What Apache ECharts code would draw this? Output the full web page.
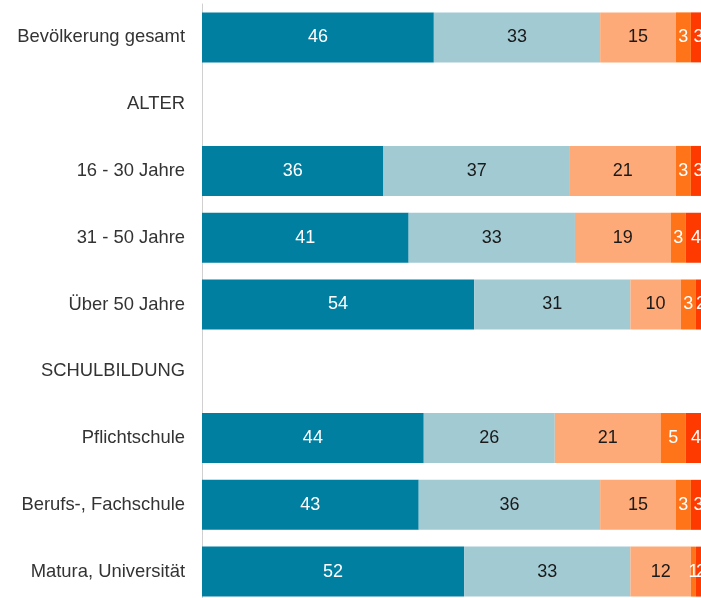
<!DOCTYPE html>
<html>
<head>
<meta charset="utf-8">
<script src="https://cdn.jsdelivr.net/npm/echarts@6/dist/echarts.min.js"></script>
<style>
html,body{margin:0;padding:0;background:#fff;}
#chart{width:701px;height:598px;}
</style>
</head>
<body>
<div id="chart"></div>
<script>
var categories = ["Bevölkerung gesamt", "ALTER", "16 - 30 Jahre", "31 - 50 Jahre", "Über 50 Jahre", "SCHULBILDUNG", "Pflichtschule", "Berufs-, Fachschule", "Matura, Universität"];
var s1 = [46, null, 36, 41, 54, null, 44, 43, 52];
var s2 = [33, null, 37, 33, 31, null, 26, 36, 33];
var s3 = [15, null, 21, 19, 10, null, 21, 15, 12];
var s4 = [3, null, 3, 3, 3, null, 5, 3, 1];
var s5 = [3, null, 3, 4, 2, null, 4, 3, 2];

var colors = ["#007FA1", "#A2CAD3", "#FDAA78", "#FF7419", "#FF3A00"];
var labelColors = ["#ffffff", "#1a1a1a", "#1a1a1a", "#ffffff", "#ffffff"];
var seriesData = [s1, s2, s3, s4, s5];

var chart = echarts.init(document.getElementById('chart'), null, {renderer: 'canvas'});
var series = seriesData.map(function (d, i) {
  return {
    type: 'bar',
    stack: 'total',
    data: d,
    barWidth: 50,
    itemStyle: {color: colors[i]},
    label: {
      show: true,
      position: 'inside',
      color: labelColors[i],
      fontSize: 18,
      fontFamily: 'Liberation Sans, Arial, sans-serif',
      formatter: function (p) { return p.value == null ? '' : p.value; }
    },
    emphasis: {disabled: true}
  };
});

chart.setOption({
  animation: false,
  grid: {left: 202, top: 4, width: 504, height: 601, containLabel: false, outerBoundsMode: 'none'},
  xAxis: {
    type: 'value', min: 0, max: 100,
    show: false
  },
  yAxis: {
    type: 'category',
    data: categories,
    inverse: true,
    axisLine: {show: true, lineStyle: {color: '#d0d0d0', width: 1}},
    axisTick: {show: false},
    axisLabel: {
      color: '#333333',
      fontSize: 18.4,
      margin: 17,
      fontFamily: 'Liberation Sans, Arial, sans-serif'
    }
  },
  series: series
});
</script>
</body>
</html>
